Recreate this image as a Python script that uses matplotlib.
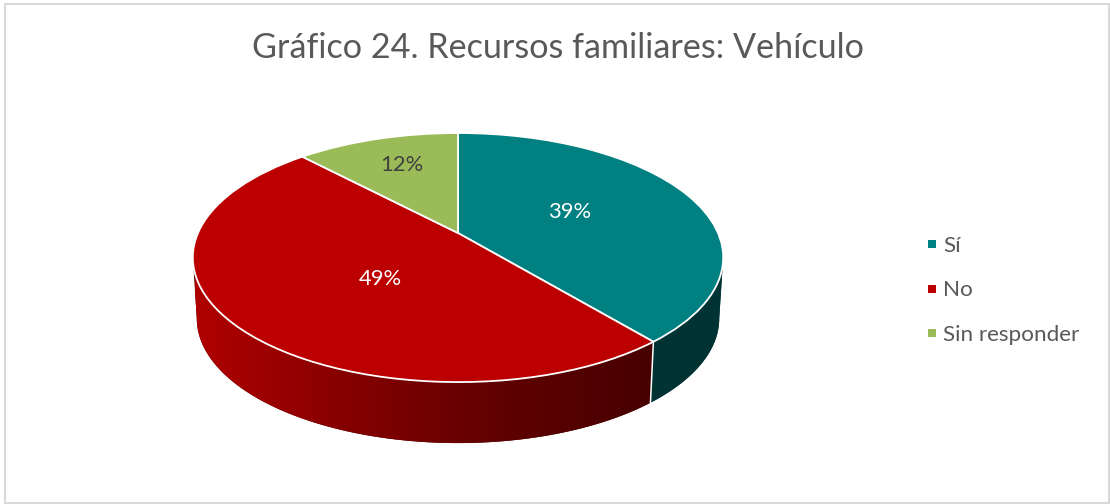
import numpy as np
import matplotlib
matplotlib.use("Agg")
import matplotlib.pyplot as plt
from matplotlib.colors import LinearSegmentedColormap
from matplotlib.lines import Line2D
from matplotlib.patches import Rectangle
from matplotlib.transforms import Transform

plt.rcParams["font.family"] = ["Lato", "DejaVu Sans"]

title = "Gráfico 24. Recursos familiares: Vehículo"
categories = ["Sí", "No", "Sin responder"]
shares = [39, 49, 12]
colors = ["#008080", "#BC0000", "#9BBB59"]
label_colors = ["white", "white", "#404040"]

# pie geometry on the page, in pixels
HUB_X, HUB_Y = 458, 233
RX, RY = 260, 119.7
TILT = 0.197
DEPTH = 61
BOTTOM_SCALE = 0.985


class TiltTransform(Transform):
    # perspective of a flat disc seen from above, unit circle -> page pixels
    input_dims = 2
    output_dims = 2

    def transform_non_affine(self, values):
        x, y = values[:, 0], values[:, 1]
        d = 1 + TILT * y
        return np.column_stack([HUB_X + RX * x / d, HUB_Y - RY * y / d])


def rim(theta1, theta2, n=80):
    t = np.radians(np.linspace(theta1, theta2, n))
    unit = np.column_stack([np.cos(t), np.sin(t)])
    return TiltTransform().transform_non_affine(unit)


def wall(ax, theta1, theta2, shade, x1, x2):
    top = rim(theta1, theta2)
    bottom = top.copy()
    bottom[:, 0] = HUB_X + (bottom[:, 0] - HUB_X) * BOTTOM_SCALE
    bottom[:, 1] += DEPTH
    outline = np.vstack([top, bottom[::-1]])
    poly = ax.fill(outline[:, 0], outline[:, 1], color=shade[-1], lw=0, zorder=1)[0]
    cmap = LinearSegmentedColormap.from_list("side", shade)
    im = ax.imshow(np.linspace(0, 1, 256)[None, :], cmap=cmap, extent=(x1, x2, 460, 250),
                   aspect="auto", zorder=1.5)
    im.set_clip_path(poly)
    return bottom


fig = plt.figure(figsize=(11.10, 5.04), dpi=100)
ax = fig.add_axes([0, 0, 1, 1])

wedges, _ = ax.pie(shares, colors=colors, startangle=90, counterclock=False,
                   wedgeprops={"edgecolor": "white", "linewidth": 1.3})
tilt = TiltTransform() + ax.transData
for w in wedges:
    w.set_transform(tilt)
    w.set_zorder(3)

# side walls, only the front part of the rim shows
first_cut = 90 - shares[0] * 3.6
left_end = 180 + np.degrees(np.arcsin(TILT))
right_end = -np.degrees(np.arcsin(TILT))
wall(ax, left_end, first_cut + 360, ["#B00000", "#850000", "#600000", "#470000"], 195, 652)
bottom = wall(ax, first_cut, right_end, ["#003333", "#003333"], 650, 725)
cut = rim(first_cut, first_cut, 1)[0]
ax.plot([cut[0], bottom[0, 0]], [cut[1], bottom[0, 1]], color="white", lw=1.1, zorder=2)

ax.set_aspect("auto")
ax.set_xlim(0, 1110)
ax.set_ylim(504, 0)
ax.axis("off")

ax.add_patch(Rectangle((5, 4), 1104, 499, fill=False, edgecolor="#D9D9D9", linewidth=1.5, zorder=0))

ax.text(558, 48, title, ha="center", va="center", fontsize=24.6, color="#595959")

for value, c, xy in zip(shares, label_colors, [(570, 212), (380, 279), (402, 165)]):
    ax.text(xy[0], xy[1], f"{value}%", ha="center", va="center", fontsize=15.8, color=c, zorder=4)

handles = [Line2D([], [], linestyle="none", marker="s", markersize=5.6, color=c, markeredgewidth=0)
           for c in colors]
ax.legend(handles, categories, loc="center left", bbox_to_anchor=(924, 290.5),
          bbox_transform=ax.transData, frameon=False, fontsize=16.2, labelcolor="#595959",
          handlelength=0.7, handletextpad=0.14, labelspacing=1.1, borderpad=0, borderaxespad=0)

fig.savefig("out.png", dpi=100)
